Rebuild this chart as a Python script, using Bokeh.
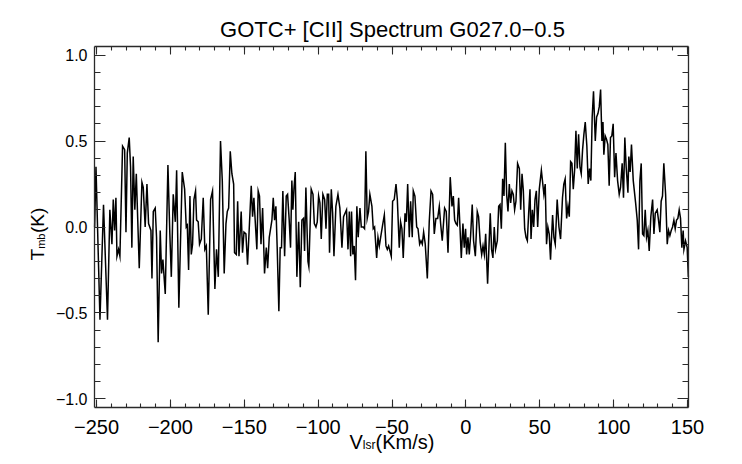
import numpy as np
from bokeh.plotting import figure
from bokeh.models import (Range1d, LinearAxis, SingleIntervalTicker, Label,
                          CustomJSTickFormatter, ColumnDataSource)
from bokeh.embed import file_html
from bokeh.resources import INLINE

# ---------------- data ----------------
title_text = "GOTC+ [CII] Spectrum G027.0\u22120.5"
x_label_main, x_label_sub, x_label_tail = "V", "lsr", "(Km/s)"
y_label_main, y_label_sub, y_label_tail = "T", "mb", "(K)"

velocity = [
    -251.3, -250.4, -247.7, -245.3, -242.6, -241.0, -239.6, -238.7, -237.8, -236.9,
    -236.2, -235.1, -234.2, -232.4, -231.0, -230.1, -229.2, -227.9, -227.0, -226.1,
    -225.2, -224.1, -223.1, -222.2, -221.1, -219.3, -218.4, -217.1, -215.9, -214.8,
    -213.2, -212.5, -211.6, -210.3, -209.4, -208.3, -206.9, -206.0, -205.1, -203.5,
    -201.7, -200.4, -199.4, -198.1, -196.7, -195.8, -194.3, -192.0, -190.4, -189.3,
    -188.6, -187.7, -186.8, -185.9, -185.0, -184.1, -183.0, -182.3, -181.2, -180.3,
    -179.1, -177.8, -176.7, -175.7, -174.4, -172.8, -171.5, -169.9, -168.8, -167.6,
    -166.1, -164.9, -163.6, -162.4, -161.5, -160.6, -159.5, -158.4, -157.2, -156.6,
    -155.4, -154.5, -153.6, -152.1, -151.2, -150.2, -148.9, -147.8, -145.3, -144.4,
    -143.5, -141.5, -140.6, -139.7, -138.7, -137.6, -136.3, -135.1, -134.2, -133.1,
    -131.3, -130.4, -129.5, -128.6, -127.7, -126.6, -125.7, -124.8, -123.9, -122.7,
    -121.6, -120.7, -119.6, -118.7, -117.8, -117.1, -116.4, -115.5, -114.4, -113.2,
    -112.1, -111.0, -109.9, -109.2, -108.3, -106.9, -106.3, -104.7, -103.5, -102.6,
    -101.5, -100.6, -99.7, -98.8, -97.9, -96.8, -95.6, -94.7, -93.8, -92.9,
    -92.3, -91.1, -90.2, -89.3, -88.0, -86.6, -85.3, -83.9, -82.8, -80.8,
    -79.8, -78.9, -78.0, -77.4, -76.5, -75.6, -74.7, -73.8, -72.9, -71.7,
    -70.8, -69.5, -68.6, -67.7, -66.8, -65.9, -65.0, -63.6, -62.7, -61.8,
    -60.4, -59.5, -58.6, -57.7, -56.4, -55.2, -54.1, -53.2, -52.3, -51.4,
    -50.5, -49.6, -48.5, -47.3, -46.4, -45.1, -44.2, -43.3, -42.4, -41.2,
    -40.3, -39.4, -38.3, -37.4, -36.3, -35.6, -34.5, -33.3, -32.4, -31.3,
    -30.4, -29.5, -28.6, -27.5, -26.1, -24.8, -23.6, -22.5, -21.4, -20.3,
    -19.1, -18.0, -17.1, -16.0, -14.4, -13.3, -12.1, -10.6, -9.4, -8.5,
    -7.6, -6.7, -5.8, -4.9, -4.0, -3.1, -2.0, -1.1, -0.2, 0.5,
    1.4, 2.3, 3.2, 4.3, 5.2, 6.4, 7.7, 8.6, 9.7, 10.7,
    11.6, 12.5, 13.4, 14.7, 15.6, 16.5, 17.4, 18.3, 19.2, 20.1,
    21.3, 22.2, 23.1, 24.0, 24.9, 25.8, 26.7, 27.6, 28.5, 29.4,
    30.3, 31.2, 32.1, 33.0, 33.9, 35.0, 36.2, 37.1, 38.0, 38.9,
    39.8, 40.7, 41.6, 42.5, 43.4, 44.1, 45.0, 45.9, 46.8, 47.7,
    48.6, 49.7, 51.1, 52.8, 53.7, 54.6, 55.5, 56.4, 57.3, 58.7,
    59.6, 60.5, 61.8, 63.0, 64.1, 65.4, 66.3, 67.2, 68.2, 69.1,
    70.0, 70.9, 71.8, 72.7, 73.6, 74.5, 75.4, 76.3, 77.2, 78.1,
    79.0, 79.9, 80.8, 81.9, 82.8, 83.7, 84.6, 85.5, 86.4, 87.6,
    88.5, 89.4, 90.3, 91.2, 92.1, 92.8, 93.4, 94.3, 95.2, 96.1,
    97.0, 97.9, 98.8, 99.7, 100.7, 101.6, 102.7, 103.8, 104.7, 105.8,
    106.7, 107.6, 108.5, 109.7, 110.3, 111.2, 112.1, 113.3, 114.9, 116.0,
    116.9, 117.8, 118.7, 119.6, 120.5, 121.4, 122.3, 123.2, 124.1, 125.2,
    126.4, 127.3, 128.2, 129.5, 130.4, 131.3, 132.2, 133.1, 134.0, 135.2,
    136.3, 137.2, 138.1, 139.0, 139.9, 140.8, 141.7, 142.6, 143.5, 144.4,
    145.3, 146.2, 147.1, 147.6, 148.7, 149.8, 150.6,
]

tmb = [
    0.00, 0.35, -0.54, 0.13, -0.54, 0.10, -0.10, 0.16, -0.02, 0.17,
    -0.17, -0.13, -0.17, 0.47, 0.45, -0.03, 0.43, 0.52, 0.35, -0.12,
    0.41, 0.10, 0.31, 0.06, -0.24, 0.26, 0.23, 0.00, 0.25, 0.02,
    -0.02, -0.30, 0.09, 0.11, -0.06, -0.67, -0.02, -0.27, -0.19, -0.39,
    0.36, -0.04, -0.29, 0.19, 0.03, 0.33, -0.47, 0.32, 0.22, 0.00,
    0.01, -0.25, 0.18, -0.16, -0.10, 0.16, 0.21, 0.04, 0.03, -0.10,
    -0.07, 0.17, -0.13, -0.11, -0.51, 0.16, 0.21, -0.36, -0.13, -0.29,
    0.50, 0.27, -0.27, 0.02, 0.09, 0.11, 0.44, 0.31, 0.25, -0.15,
    -0.16, 0.15, -0.17, 0.09, -0.15, -0.03, -0.04, -0.22, 0.24, 0.06,
    0.17, -0.13, 0.21, 0.18, -0.10, 0.11, -0.27, -0.12, -0.24, -0.06,
    0.04, 0.17, 0.04, 0.12, -0.13, -0.49, -0.12, -0.12, 0.21, -0.17,
    0.18, 0.19, 0.04, -0.12, 0.27, 0.10, 0.22, 0.32, -0.29, 0.03,
    -0.35, 0.04, 0.05, -0.14, 0.23, -0.20, -0.23, 0.22, 0.19, 0.02,
    0.00, 0.03, 0.18, 0.14, -0.07, 0.19, 0.16, -0.01, 0.19, 0.19,
    -0.15, 0.22, 0.08, -0.17, 0.12, 0.19, 0.11, -0.12, 0.06, 0.10,
    -0.13, 0.09, -0.17, 0.09, -0.16, -0.11, -0.31, 0.12, -0.06, 0.11,
    0.00, 0.00, -0.01, 0.44, 0.05, 0.09, 0.19, 0.12, -0.01, 0.00,
    -0.18, -0.06, -0.11, -0.06, 0.01, 0.07, -0.11, -0.13, -0.11, -0.14,
    -0.17, 0.15, 0.16, 0.25, 0.16, -0.12, 0.03, -0.01, -0.18, 0.08,
    0.03, 0.25, -0.06, 0.15, -0.06, 0.21, 0.18, 0.00, -0.01, -0.10,
    -0.08, -0.10, -0.03, -0.10, -0.30, 0.03, 0.21, 0.19, -0.04, 0.05,
    0.05, 0.12, 0.02, -0.08, 0.11, 0.09, -0.15, 0.29, 0.12, 0.18,
    0.04, 0.02, 0.01, 0.17, 0.00, -0.18, 0.02, -0.12, -0.01, -0.16,
    -0.06, -0.16, -0.05, 0.13, -0.08, -0.17, 0.09, 0.06, -0.09, -0.16,
    -0.11, -0.16, -0.04, -0.33, -0.12, 0.08, -0.13, -0.18, 0.00, -0.13,
    -0.08, 0.12, 0.13, -0.01, 0.28, 0.18, 0.49, 0.19, 0.09, 0.25,
    0.14, 0.21, 0.19, 0.10, 0.15, 0.37, 0.34, 0.10, 0.31, 0.21,
    -0.01, -0.06, -0.08, 0.08, 0.22, -0.07, 0.10, 0.00, 0.16, 0.21,
    0.00, 0.22, 0.33, 0.19, 0.25, -0.10, 0.00, -0.04, -0.19, 0.07,
    -0.06, -0.10, 0.16, 0.00, -0.07, 0.17, 0.25, 0.28, 0.05, 0.12,
    0.06, 0.38, 0.37, 0.22, 0.33, 0.56, 0.34, 0.54, 0.35, 0.31,
    0.45, 0.54, 0.61, 0.47, 0.25, 0.34, 0.27, 0.64, 0.79, 0.50,
    0.64, 0.66, 0.70, 0.80, 0.50, 0.61, 0.42, 0.53, 0.51, 0.48,
    0.24, 0.52, 0.53, 0.60, 0.29, 0.43, 0.27, 0.19, 0.23, 0.37,
    0.17, 0.52, 0.35, 0.20, 0.41, 0.32, 0.48, 0.27, 0.14, 0.04,
    -0.13, 0.27, 0.37, -0.04, -0.05, 0.10, -0.06, -0.02, -0.14, 0.06,
    0.16, -0.04, 0.08, 0.10, 0.04, -0.03, 0.15, 0.18, 0.37, 0.19,
    -0.10, -0.02, -0.05, -0.02, 0.00, 0.04, -0.01, 0.04, 0.05, 0.10,
    0.05, -0.12, -0.02, -0.13, -0.08, -0.12, -0.29,
]

assert len(velocity) == len(tmb)

x_limits = (-251.4, 150.7)   # plotted velocity range (box edges)
y_limits = (-1.05, 1.05)     # plotted T_mb range (box edges)
x_tick_step, y_tick_step = 50, 0.5

# ---------------- layout geometry (pixels) ----------------
W, H = 742, 464
BOX_L, BOX_R, BOX_T, BOX_B = 94, 688, 46, 407   # where the plot box sits on the page

# the frame covers the whole canvas; the box is drawn by axes at fixed locations
sx = (BOX_R - BOX_L) / (x_limits[1] - x_limits[0])
sy = (BOX_B - BOX_T) / (y_limits[1] - y_limits[0])
x_full = (x_limits[0] - BOX_L / sx, x_limits[1] + (W - BOX_R) / sx)
y_full = (y_limits[0] - (H - BOX_B) / sy, y_limits[1] + BOX_T / sy)

FONT = "Liberation Sans"
AXIS_COLOR = "#2a2a2a"

p = figure(width=W, height=H, output_backend="svg", toolbar_location=None,
           x_range=Range1d(*x_full), y_range=Range1d(*y_full),
           x_axis_location=None, y_axis_location=None,
           min_border=0)
p.outline_line_color = None
p.background_fill_color = "white"
p.border_fill_color = "white"
p.xgrid.visible = False
p.ygrid.visible = False

fmt_x = CustomJSTickFormatter(code="return (tick < 0 ? '\\u2212' : '') + Math.abs(tick).toFixed(0);")
fmt_y = CustomJSTickFormatter(code="return (tick < -1e-9 ? '\\u2212' : '') + Math.abs(tick).toFixed(1);")
fmt_none = CustomJSTickFormatter(code="return '';")


def make_axis(step, formatter, fixed, bounds, major_in, minor_in, size, standoff):
    ax = LinearAxis(ticker=SingleIntervalTicker(interval=step, num_minor_ticks=5),
                    formatter=formatter, fixed_location=fixed, bounds=bounds)
    ax.axis_line_color = AXIS_COLOR
    ax.axis_line_width = 1.3
    ax.major_tick_line_color = AXIS_COLOR
    ax.minor_tick_line_color = AXIS_COLOR
    ax.major_tick_line_width = 1.1
    ax.minor_tick_line_width = 1.1
    ax.major_tick_in = major_in
    ax.major_tick_out = 0
    ax.minor_tick_in = minor_in
    ax.minor_tick_out = 0
    ax.major_label_text_font = FONT
    ax.major_label_text_color = "black"
    ax.major_label_text_font_size = size
    ax.major_label_standoff = standoff
    return ax


p.add_layout(make_axis(x_tick_step, fmt_x, y_limits[0], x_limits, 8, 4, "20px", 12), "below")
p.add_layout(make_axis(x_tick_step, fmt_none, y_limits[1], x_limits, 8, 4, "1px", 0), "above")
p.add_layout(make_axis(y_tick_step, fmt_y, x_limits[0], y_limits, 11, 6, "16px", 7), "left")
p.add_layout(make_axis(y_tick_step, fmt_none, x_limits[1], y_limits, 11, 6, "1px", 0), "right")

# ---------------- spectrum ----------------
src = ColumnDataSource(data=dict(v=velocity, t=tmb))
p.line("v", "t", source=src, line_color="black", line_width=1.5, line_join="miter")

# ---------------- texts (canvas units, y measured from the top) ----------------
def add_label(text, x, y, size, angle=0.0, align="left"):
    p.add_layout(Label(x=x, y=y, x_units="canvas", y_units="canvas", text=text,
                       text_font=FONT, text_font_size=size, text_color="black",
                       text_align=align, text_baseline="alphabetic", angle=angle))


# title
add_label(title_text, 392, 29, "22px", align="center")

# x axis label: V_lsr(Km/s)
add_label(x_label_main, 349, 441, "20px")
add_label(x_label_sub, 362.3, 444.5, "12px")
add_label(x_label_tail, 375, 441, "20px")

# y axis label: T_mb(K), rotated
rot = np.pi / 2
add_label(y_label_main, 37, 260, "19px", angle=rot)
add_label(y_label_sub, 40.5, 248.3, "11px", angle=rot)
add_label(y_label_tail, 37, 232.6, "19px", angle=rot)

open("out.html", "w").write(file_html(p, INLINE))
